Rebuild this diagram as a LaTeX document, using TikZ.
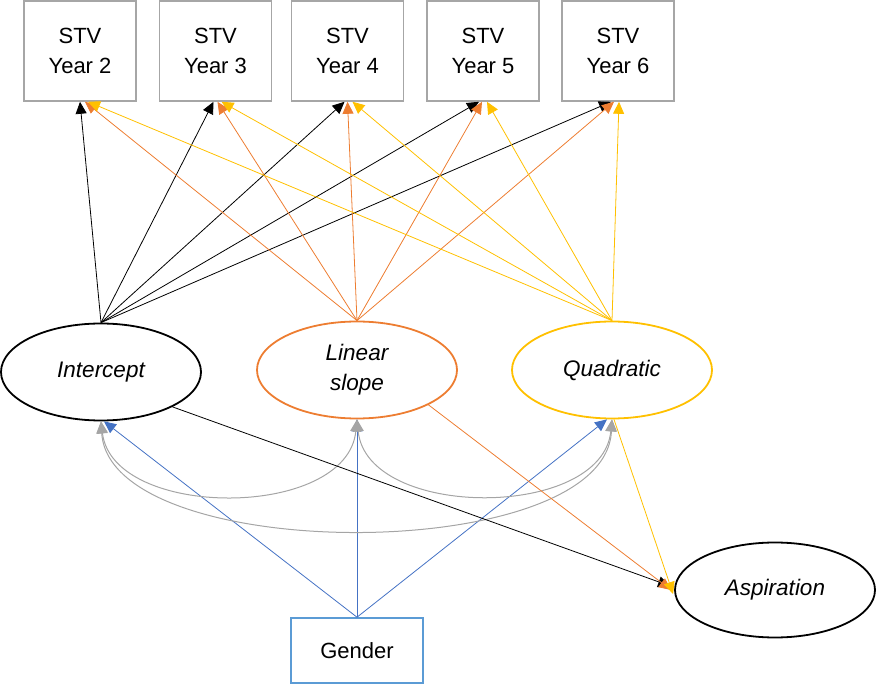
\documentclass[tikz,border=0pt]{standalone}
\usepackage{fontspec}
\setmainfont{Liberation Sans}
\usetikzlibrary{arrows.meta,shapes.geometric}
\definecolor{cOrange}{HTML}{ED7D31}
\definecolor{cYellow}{HTML}{FFC000}
\definecolor{cBlue}{HTML}{4472C4}
\definecolor{cGray}{HTML}{A5A5A5}
\definecolor{cBox}{HTML}{A6A6A6}
\definecolor{cGBox}{HTML}{5B9BD5}
\tikzset{
  obsbox/.style={draw=cBox, line width=1.6pt, minimum width=112pt, minimum height=100pt, inner sep=0pt, align=center, font=\fontsize{22}{30}\selectfont},
  latent/.style={ellipse, line width=1.8pt, minimum width=200pt, minimum height=97pt, inner sep=0pt, align=center, font=\fontsize{22.5}{30}\selectfont\itshape},
  tip/.style={-{Triangle[length=12pt,width=11pt]}},
  ptharrow/.style={tip, line width=0.8pt},
  covarrow/.style={{Triangle[length=12pt,width=11pt]}-{Triangle[length=12pt,width=11pt]}, line width=1pt, draw=cGray},
}
\begin{document}
\begin{tikzpicture}[x=1pt,y=-1pt]
\useasboundingbox (0,0) rectangle (876,684);
% observed boxes
\node[obsbox] (y2) at (80,51) {STV\\Year 2};
\node[obsbox] (y3) at (215.5,51) {STV\\Year 3};
\node[obsbox] (y4) at (347.5,51) {STV\\Year 4};
\node[obsbox] (y5) at (483,51) {STV\\Year 5};
\node[obsbox] (y6) at (618,51) {STV\\Year 6};
% latent ellipses
\node[latent, draw=black] (int) at (101,372) {Intercept};
\node[latent, draw=cOrange] (lin) at (357,370) {Linear\\slope};
\node[latent, draw=cYellow] (quad) at (612,370) {Quadratic};
\node[latent, draw=black, minimum height=95pt] (asp) at (775,590) {Aspiration};
\node[draw=cGBox, line width=1.6pt, minimum width=132pt, minimum height=65pt, inner sep=0pt, font=\fontsize{22}{30}\selectfont] (gen) at (357,650.5) {Gender};
% intercept loadings
\draw[ptharrow, black] (int.north) -- ([xshift=0pt]y2.south);
\draw[ptharrow, black] (int.north) -- ([xshift=-2pt]y3.south);
\draw[ptharrow, black] (int.north) -- ([xshift=-3pt]y4.south);
\draw[ptharrow, black] (int.north) -- ([xshift=-4pt]y5.south);
\draw[ptharrow, black] (int.north) -- ([xshift=-7pt]y6.south);
% linear loadings
\draw[ptharrow, cOrange] (lin.north) -- ([xshift=5pt]y2.south);
\draw[ptharrow, cOrange] (lin.north) -- ([xshift=2pt]y3.south);
\draw[ptharrow, cOrange] (lin.north) -- ([xshift=0pt]y4.south);
\draw[ptharrow, cOrange] (lin.north) -- ([xshift=-1pt]y5.south);
\draw[ptharrow, cOrange] (lin.north) -- ([xshift=-4pt]y6.south);
% quadratic loadings
\draw[ptharrow, cYellow] (quad.north) -- ([xshift=8pt]y2.south);
\draw[ptharrow, cYellow] (quad.north) -- ([xshift=6pt]y3.south);
\draw[ptharrow, cYellow] (quad.north) -- ([xshift=5pt]y4.south);
\draw[ptharrow, cYellow] (quad.north) -- ([xshift=4pt]y5.south);
\draw[ptharrow, cYellow] (quad.north) -- ([xshift=1pt]y6.south);
% gender effects
\draw[ptharrow, cBlue] (gen.north) -- ([xshift=3pt]int.south);
\draw[ptharrow, cBlue] (gen.north) -- (lin.south);
\draw[ptharrow, cBlue] (gen.north) -- ([xshift=-5pt]quad.south);
% covariances
\draw[covarrow] (int.south) .. controls (113,520) and (347,520) .. (lin.south);
\draw[covarrow] (lin.south) .. controls (367,520) and (602,520) .. (quad.south);
\draw[covarrow] (int.south) .. controls (110,566) and (605,566) .. (quad.south);
% effects on aspiration
\draw[ptharrow, black] (int.-26) -- ([shift={(-4pt,4pt)}]asp.west);
\draw[ptharrow, cOrange] (lin.-26) -- ([shift={(-3pt,0pt)}]asp.west);
\draw[ptharrow, cYellow] ([xshift=2pt]quad.south) -- ([shift={(-1pt,-4pt)}]asp.west);
\end{tikzpicture}
\end{document}
